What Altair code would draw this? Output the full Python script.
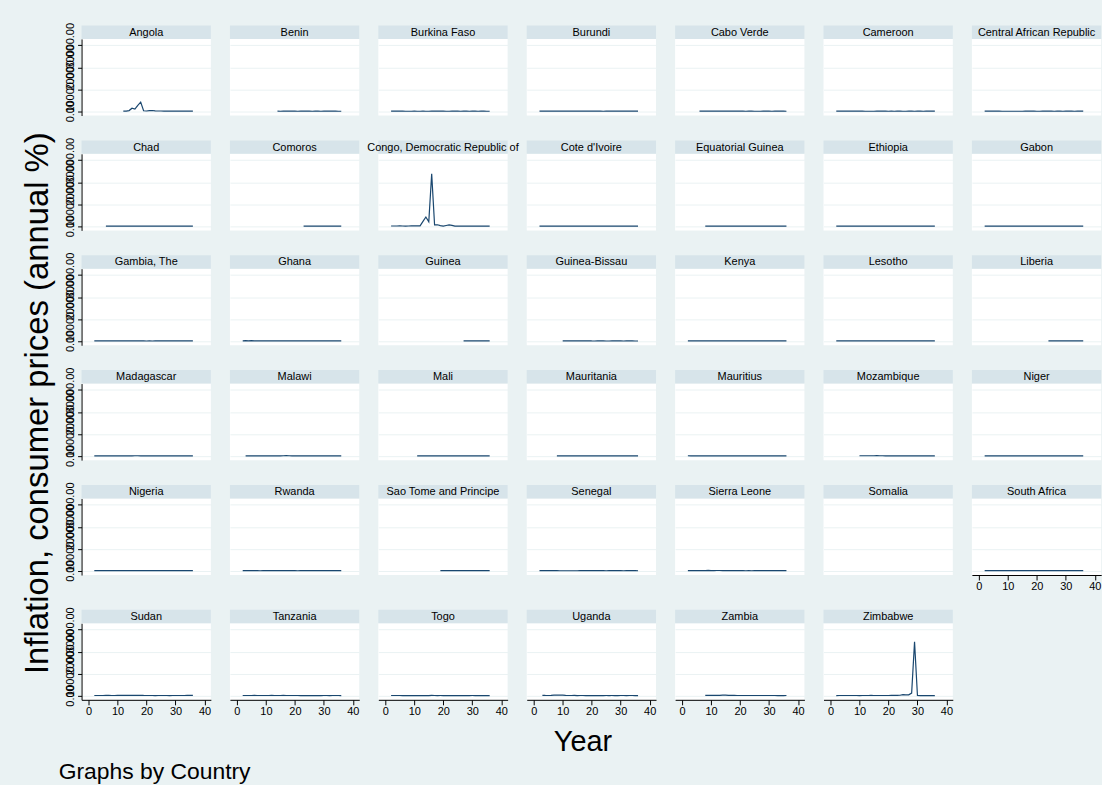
import altair as alt
import pandas as pd

FONT = "Liberation Sans"
BG = "#EAF2F3"
STRIP = "#D7E4EA"
LINE = "#1A476F"

PANEL_W = 130
PANEL_H = 77
STRIP_H = 13.5

# x position of an observation is calendar year minus 1978 (1980 -> 2, 2014 -> 36)
YEAR_OFFSET = 1978
X_TICKS = [0, 10, 20, 30, 40]
Y_TICKS = [0, 10000, 20000, 30000]

ROWS = [
    ["Angola", "Benin", "Burkina Faso", "Burundi", "Cabo Verde", "Cameroon",
     "Central African Republic"],
    ["Chad", "Comoros", "Congo, Democratic Republic of", "Cote d'Ivoire",
     "Equatorial Guinea", "Ethiopia", "Gabon"],
    ["Gambia, The", "Ghana", "Guinea", "Guinea-Bissau", "Kenya", "Lesotho", "Liberia"],
    ["Madagascar", "Malawi", "Mali", "Mauritania", "Mauritius", "Mozambique", "Niger"],
    ["Nigeria", "Rwanda", "Sao Tome and Principe", "Senegal", "Sierra Leone",
     "Somalia", "South Africa"],
    ["Sudan", "Tanzania", "Togo", "Uganda", "Zambia", "Zimbabwe"],
]

# first calendar year with a reading
FIRST_YEAR = {
    "Angola": 1990, "Benin": 1992, "Burkina Faso": 1980, "Burundi": 1980,
    "Cabo Verde": 1984, "Cameroon": 1980, "Central African Republic": 1980,
    "Chad": 1984, "Comoros": 2001, "Congo, Democratic Republic of": 1980,
    "Cote d'Ivoire": 1980, "Equatorial Guinea": 1986, "Ethiopia": 1980,
    "Gabon": 1980, "Gambia, The": 1980, "Ghana": 1980, "Guinea": 2005,
    "Guinea-Bissau": 1988, "Kenya": 1980, "Lesotho": 1980, "Liberia": 2002,
    "Madagascar": 1980, "Malawi": 1981, "Mali": 1989, "Mauritania": 1986,
    "Mauritius": 1980, "Mozambique": 1988, "Niger": 1980, "Nigeria": 1980,
    "Rwanda": 1980, "Sao Tome and Principe": 1997, "Senegal": 1980,
    "Sierra Leone": 1980, "South Africa": 1980, "Sudan": 1980,
    "Tanzania": 1980, "Togo": 1980, "Uganda": 1981, "Zambia": 1986,
    "Zimbabwe": 1980,
}

# annual consumer price inflation (%), consecutive years from FIRST_YEAR to 2014
INFLATION = {
    "Angola": [30, 84, 299, 1379, 949, 2672, 4145, 219, 107, 248, 325, 153, 109, 98,
               44, 23, 13, 12, 12, 14, 14, 13, 10, 9, 7],
    "Benin": [6, 0, 38, 15, 5, 4, 6, 0, 4, 4, 2, 2, 1, 5, 4, 1, 8, 2, 2, 3, 7, 1, -1],
    "Burkina Faso": [12, 8, 12, 8, 5, -2, -3, -3, 4, 0, -1, 2, -2, 1, 25, 8, 6, 2, 5,
                     -1, 0, 5, 2, 2, -0.4, 6, 2, 0, 11, 3, -1, 3, 4, 1, -0.3],
    "Burundi": [2, 12, 6, 8, 14, 4, 2, 7, 5, 12, 7, 9, 2, 10, 15, 19, 26, 31, 13, 3,
                24, 9, -1, 11, 8, 13, 3, 8, 24, 11, 6, 10, 18, 8, 4],
    "Cabo Verde": [13, 8, 12, 4, 3, 4, 11, 9, 13, 6, 3, 8, 6, 9, 4, 4, -2, 4, 2, 1,
                   -2, 0, 5, 4, 7, 1, 2, 4, 3, 2, -0.2],
    "Cameroon": [10, 11, 13, 17, 11, 2, 8, 13, 2, 2, 1, 0, 0, -4, 13, 26, 7, 5, 0, 3,
                 1, 4, 3, 1, 0, 2, 5, 1, 5, 3, 1, 3, 2, 2, 2],
    "Central African Republic": [15, 14, 12, 14, 7, 10, -3, -7, -4, -1, 0, -3, -1, -3,
                                 25, 19, 4, 2, -2, -2, 3, 4, 2, 4, -2, 3, 7, 1, 9, 4,
                                 2, 1, 6, 7, 11],
    "Chad": [20, -3, -10, -12, 15, -5, -1, 4, -4, -7, 41, 9, 12, 6, 4, -8, 4, 12, 5,
             -2, -5, 8, 8, -7, 8, 10, -2, 2, 10, 0, 2],
    "Comoros": [6, 4, 4, 5, 3, 3, 4, 5, 5, 4, 2, 6, 2, 0],
    "Congo, Democratic Republic of": [47, 35, 37, 77, 52, 24, 47, 90, 83, 104, 81, 2154,
                                      4130, 1987, 23773, 542, 617, 199, 29, 285, 514,
                                      357, 25, 13, 4, 21, 13, 17, 18, 46, 24, 15, 1, 1, 1],
    "Cote d'Ivoire": [15, 9, 8, 6, 4, 2, 7, 7, 7, 1, -1, 2, 4, 2, 26, 8, 2, 4, 5, 1,
                      3, 4, 3, 3, 1, 4, 2, 2, 6, 1, 1, 5, 1, 3, 0],
    "Equatorial Guinea": [25, 10, 5, 6, 1, -2, 1, 2, 39, 11, 6, 3, 8, 0, 5, 9, 8, 7,
                          4, 6, 4, 3, 5, 6, 5, 5, 4, 3, 4],
    "Ethiopia": [4, 6, 6, -1, 8, 19, -10, -2, 7, 8, 5, 36, 10, 4, 8, 13, -5, -6, 4, 5,
                 6, -8, 2, 15, 9, 11, 12, 16, 44, 9, 8, 33, 24, 8, 7],
    "Gabon": [12, 9, 17, 10, 6, 7, 6, -1, -10, 7, 9, -11, -10, 1, 36, 10, 1, 4, 2, -1,
              1, 2, 0, 2, 0, 0, 4, 5, 5, 2, 1, 1, 3, 1, 5],
    "Gambia, The": [7, 6, 10, 11, 22, 18, 56, 23, 11, 8, 12, 9, 10, 6, 4, 7, 5, 3, 1, 4,
                    1, 5, 9, 17, 14, 5, 2, 5, 4, 5, 5, 5, 5, 6, 6],
    "Ghana": [50, 117, 22, 123, 40, 10, 25, 40, 31, 25, 37, 18, 10, 25, 25, 60, 46, 28,
              15, 12, 25, 33, 15, 27, 13, 15, 11, 11, 17, 19, 11, 9, 9, 12, 16],
    "Guinea": [31, 35, 23, 18, 5, 16, 21, 15, 12, 10],
    "Guinea-Bissau": [60, 80, 33, 57, 70, 48, 15, 45, 51, 49, 8, -1, 9, 3, 3, -4, 1, 3,
                      2, 5, 10, -2, 2, 5, 2, 1, -1],
    "Kenya": [14, 12, 22, 15, 10, 13, 4, 5, 8, 13, 18, 20, 27, 46, 29, 2, 9, 12, 7, 6,
              10, 6, 2, 10, 12, 10, 6, 4, 15, 9, 4, 14, 9, 6, 7],
    "Lesotho": [16, 16, 13, 13, 12, 14, 19, 14, 12, 14, 12, 18, 17, 14, 7, 10, 9, 9, 8,
                9, 6, 7, 12, 7, 5, 3, 6, 8, 11, 7, 3, 5, 6, 5, 5],
    "Liberia": [14, 10, 4, 7, 7, 11, 17, 7, 7, 9, 7, 8, 10],
    "Madagascar": [18, 31, 31, 19, 10, 10, 15, 15, 27, 9, 12, 9, 15, 10, 39, 49, 19, 4,
                   6, 8, 12, 7, 16, -1, 14, 18, 10, 10, 9, 9, 9, 10, 6, 6, 6],
    "Malawi": [12, 10, 14, 20, 11, 14, 25, 34, 12, 12, 8, 23, 23, 35, 83, 38, 9, 30, 45,
               30, 23, 15, 10, 11, 15, 14, 8, 9, 8, 7, 8, 21, 28, 24],
    "Mali": [-1, 1, 2, -6, -1, 24, 12, 7, -1, 4, -1, -1, 5, 5, -1, -3, 6, 2, 1, 9, 2, 1,
             3, 5, -1, 1],
    "Mauritania": [6, 8, 1, 13, 7, 6, 10, 9, 4, 7, 5, 5, 8, 4, 3, 5, 4, 5, 10, 12, 6, 7,
                   7, 2, 6, 6, 5, 4, 4],
    "Mauritius": [42, 14, 11, 6, 8, 7, 2, 1, 9, 13, 13, 7, 5, 10, 7, 6, 7, 7, 7, 7, 4,
                  5, 6, 4, 5, 5, 9, 9, 10, 3, 3, 7, 4, 4, 3],
    "Mozambique": [50, 42, 47, 33, 45, 42, 63, 54, 48, 7, 1, 3, 13, 9, 17, 13, 13, 7,
                   13, 8, 10, 3, 13, 10, 2, 4, 2],
    "Niger": [10, 23, 12, -3, 8, -1, -3, -7, -1, -3, -1, -8, -4, -1, 36, 11, 5, 3, 5,
              -2, 3, 4, 3, -2, 0, 8, 0, 0, 11, 4, 1, 3, 0, 2, -1],
    "Nigeria": [10, 21, 8, 23, 40, 6, 5, 10, 56, 51, 7, 13, 45, 57, 57, 73, 29, 9, 10,
                7, 7, 19, 13, 14, 15, 18, 8, 5, 12, 12, 14, 11, 12, 9, 8],
    "Rwanda": [7, 7, 13, 7, 5, 2, -1, 4, 3, 1, 4, 20, 10, 12, 48, 56, 7, 12, 6, -2, 4,
               3, 2, 7, 12, 9, 9, 9, 15, 10, 2, 6, 6, 4, 2],
    "Sao Tome and Principe": [69, 42, 16, 11, 9, 9, 10, 13, 17, 23, 19, 26, 17, 13, 14,
                              10, 8, 7],
    "Senegal": [9, 6, 17, 12, 12, 13, 6, -4, -2, 0, 0, -2, 0, -1, 32, 8, 3, 2, 1, 1, 1,
                3, 2, 0, 1, 2, 2, 6, 6, -2, 1, 3, 1, 1, -1],
    "Sierra Leone": [12, 23, 27, 68, 67, 76, 81, 178, 34, 60, 111, 103, 66, 22, 24, 26,
                     23, 15, 36, 34, -1, 2, -3, 8, 14, 12, 10, 12, 15, 9, 17, 18, 14, 10, 7],
    "South Africa": [14, 15, 15, 12, 12, 16, 19, 16, 13, 15, 14, 15, 14, 10, 9, 9, 7, 9,
                     7, 5, 5, 6, 9, 6, 1, 3, 5, 7, 12, 7, 4, 5, 6, 6, 6],
    "Sudan": [25, 25, 26, 31, 34, 45, 24, 25, 49, 66, 65, 123, 117, 101, 115, 69, 133,
              47, 17, 16, 8, 5, 8, 8, 8, 8, 7, 8, 14, 11, 13, 18, 36, 37, 37],
    "Tanzania": [30, 25, 29, 27, 36, 33, 32, 30, 31, 26, 36, 29, 22, 25, 34, 28, 21, 16,
                 13, 9, 6, 5, 5, 4, 4, 4, 7, 7, 10, 12, 7, 13, 16, 8, 6],
    "Togo": [12, 19, 11, 9, -3, -2, 4, 0, 0, -1, 1, 0, 1, -1, 36, 16, 5, 8, 1, 0, 2, 4,
             3, -1, 0, 7, 2, 1, 9, 2, 1, 4, 3, 2, 0],
    "Uganda": [112, 47, 24, 42, 157, 161, 200, 196, 61, 33, 28, 52, 6, 10, 9, 7, 7, 6, 0,
               3, -2, 6, 8, 4, 8, 7, 6, 12, 13, 4, 19, 14, 5, 4],
    "Zambia": [54, 47, 55, 128, 110, 93, 165, 183, 54, 34, 46, 24, 24, 27, 26, 22, 22,
               21, 18, 18, 9, 11, 12, 13, 9, 6, 7, 7, 8],
    "Zimbabwe": [5, 13, 11, 23, 20, 9, 14, 13, 7, 13, 17, 23, 42, 28, 22, 23, 21, 19, 32,
                 59, 56, 77, 140, 432, 282, 302, 1097, 24411, 30, 6, 3, 4, 4, 2, 0],
}

records = []
for country, values in INFLATION.items():
    start = FIRST_YEAR[country] - YEAR_OFFSET
    for i, v in enumerate(values):
        records.append({"Country": country, "Year": start + i, "Inflation": v})
data = pd.DataFrame(records)

x_scale = alt.Scale(domain=[-2.4, 42.2], nice=False, zero=False)
y_scale = alt.Scale(domain=[-1950, 32900], nice=False, zero=False)


def panel(country, show_y, show_x):
    if show_x:
        x_axis = alt.Axis(values=X_TICKS, title=None, grid=False, labelFontSize=11,
                          labelAngle=0, tickSize=5, labelPadding=0.5, format="d")
    else:
        x_axis = None
    if show_y:
        y_axis = alt.Axis(values=Y_TICKS, title=None, grid=True, format=".2f",
                          labelAngle=270, labelOverlap=False, labelFontSize=11,
                          tickSize=4, labelPadding=2)
    else:
        y_axis = alt.Axis(values=Y_TICKS, title=None, grid=True, labels=False,
                          ticks=False, domain=False)

    head = pd.DataFrame({"Country": [country]})
    strip = alt.Chart(head).mark_rect(color=STRIP).encode(
        x=alt.value(0), x2=alt.value(PANEL_W),
        y=alt.value(-STRIP_H), y2=alt.value(0),
    )
    label = alt.Chart(head).mark_text(
        font=FONT, fontSize=11, color="black", baseline="middle", align="center"
    ).encode(x=alt.value(PANEL_W / 2), y=alt.value(-STRIP_H / 2 + 0.5), text="Country:N")

    line = alt.Chart(data).transform_filter(
        alt.FieldEqualPredicate(field="Country", equal=country)
    ).mark_line(color=LINE, strokeWidth=1.2).encode(
        x=alt.X("Year:Q", scale=x_scale, axis=x_axis),
        y=alt.Y("Inflation:Q", scale=y_scale, axis=y_axis),
    )
    return alt.layer(strip, line, label).properties(width=PANEL_W, height=PANEL_H)


n_rows = len(ROWS)
rows = []
for r, names in enumerate(ROWS):
    cells = []
    for c, name in enumerate(names):
        below_empty = r == n_rows - 1 or c >= len(ROWS[r + 1])
        cells.append(panel(name, show_y=(c == 0), show_x=below_empty))
    rows.append(alt.hconcat(*cells, spacing=19.2, bounds="flush"))

grid = alt.vconcat(*rows, spacing=14.5)

with_year = alt.vconcat(grid, title=alt.TitleParams(
    "Year", orient="bottom", anchor="middle", fontSize=29, font=FONT,
    fontWeight="normal", color="black", offset=12))

with_note = alt.vconcat(with_year, title=alt.TitleParams(
    "Graphs by Country", orient="bottom", anchor="start", fontSize=23, font=FONT,
    fontWeight="normal", color="black", offset=4, dx=-6))

chart = alt.vconcat(with_note, title=alt.TitleParams(
    "Inflation, consumer prices (annual %)", orient="left", anchor="middle",
    fontSize=33, font=FONT, fontWeight="normal", color="black", offset=4)
).properties(
    background=BG,
    padding={"left": 21, "top": 20, "right": 0, "bottom": 0},
).configure_view(
    fill="white", strokeWidth=0
).configure_axis(
    domainColor="black", tickColor="black", labelColor="black", labelFont=FONT,
    gridColor=BG, gridWidth=1, domainWidth=1, tickWidth=1
)

chart.save("out.html", embed_options={"renderer": "svg", "actions": False})
